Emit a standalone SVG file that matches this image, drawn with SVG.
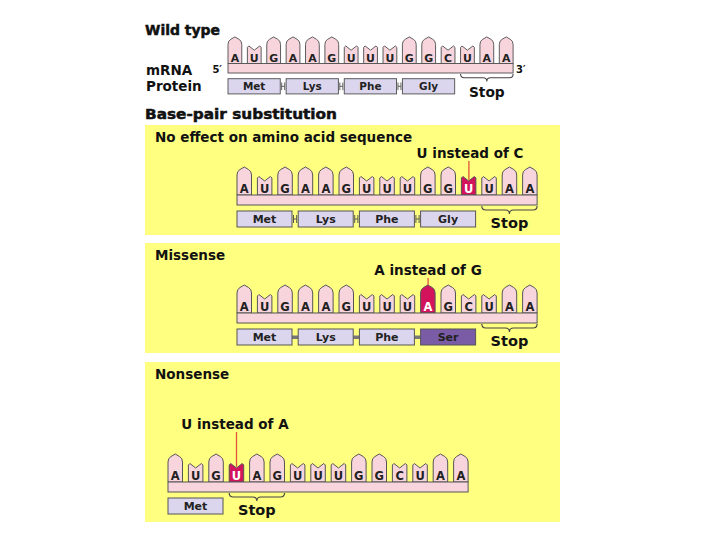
<svg xmlns="http://www.w3.org/2000/svg" xmlns:xlink="http://www.w3.org/1999/xlink" width="720" height="540" viewBox="0 0 720 540">
<style>
.t{font-family:"DejaVu Sans","Liberation Sans",sans-serif;font-weight:bold;fill:#111}
.title{font-size:14px;stroke:#111;stroke-width:0.5}
.lbl{font-size:13.5px}
.side{font-size:13.5px}
.b{font-family:"DejaVu Sans","Liberation Sans",sans-serif;font-weight:bold;font-size:11.5px;fill:#222;text-anchor:middle}
.bw{fill:#fff}
.aa{font-family:"DejaVu Sans","Liberation Sans",sans-serif;font-weight:bold;font-size:11px;fill:#222;text-anchor:middle}
.stop{font-family:"DejaVu Sans","Liberation Sans",sans-serif;font-weight:bold;font-size:14.5px;fill:#111;text-anchor:middle}
.pink{fill:#F8D5DD;stroke:#555;stroke-width:1}
.mag{fill:#D3145C;stroke:#555;stroke-width:1}
.box{fill:#DCD5EE;stroke:#555;stroke-width:1}
.ser{fill:#7A5BA6;stroke:#555;stroke-width:1}
.panel{fill:#FFFF80}
.brace{fill:none;stroke:#444;stroke-width:1.1}
.hc{fill:none;stroke:#555;stroke-width:1}
.ptr{stroke:#E0553A;stroke-width:1.3}
</style>
<defs>
<path id="pur" d="M0,0 V-20 Q0,-24 3,-25.5 L7.25,-28 L11.5,-25.5 Q14.5,-24 14.5,-20 V0 Z"/>
<path id="pyr" d="M0,0 V-17 L1.5,-18.5 L7.25,-14 L13,-18.5 L14.5,-17 V0 Z"/>
<path id="hcon" d="M56.5,20 V28 M56.5,24 H59.7 M59.7,20 V28"/>
<path id="br3" d="M0,11 Q0,15 4,15 H23.65 Q27.65,15 27.65,19 Q27.65,15 31.65,15 H51.3 Q55.3,15 55.3,11"/>
</defs>

<g id="panels">
<rect class="panel" x="145" y="125" width="415" height="110"/>
<rect class="panel" x="145" y="243" width="415" height="110"/>
<rect class="panel" x="145" y="362" width="415" height="160"/>
</g>

<g id="headings">
<text class="t title" x="145" y="35" textLength="75" lengthAdjust="spacingAndGlyphs">Wild type</text>
<text class="t side" x="146" y="75">mRNA</text>
<text class="t side" x="146" y="91">Protein</text>
<text class="t title" x="145" y="119" textLength="192" lengthAdjust="spacingAndGlyphs">Base-pair substitution</text>
<text class="t" x="222" y="73" font-size="10" text-anchor="end">5′</text>
<text class="t" x="516" y="73" font-size="10">3′</text>
</g>

<g id="wildtype" transform="translate(228,63.5) scale(0.95)">
<use href="#pur" class="pink" x="0"/><use href="#pyr" class="pink" x="20.4"/><use href="#pur" class="pink" x="40.8"/>
<use href="#pur" class="pink" x="61.2"/><use href="#pur" class="pink" x="81.6"/><use href="#pur" class="pink" x="102"/>
<use href="#pyr" class="pink" x="122.4"/><use href="#pyr" class="pink" x="142.8"/><use href="#pyr" class="pink" x="163.2"/>
<use href="#pur" class="pink" x="183.6"/><use href="#pur" class="pink" x="204"/><use href="#pyr" class="pink" x="224.4"/>
<use href="#pyr" class="pink" x="244.8"/><use href="#pur" class="pink" x="265.2"/><use href="#pur" class="pink" x="285.6"/>
<rect class="pink" x="0" y="0" width="300.1" height="10"/>
<g>
<text class="b" x="7.25" y="-2">A</text><text class="b" x="27.65" y="-2">U</text><text class="b" x="48.05" y="-2">G</text>
<text class="b" x="68.45" y="-2">A</text><text class="b" x="88.85" y="-2">A</text><text class="b" x="109.25" y="-2">G</text>
<text class="b" x="129.65" y="-2">U</text><text class="b" x="150.05" y="-2">U</text><text class="b" x="170.45" y="-2">U</text>
<text class="b" x="190.85" y="-2">G</text><text class="b" x="211.25" y="-2">G</text><text class="b" x="231.65" y="-2">C</text>
<text class="b" x="252.05" y="-2">U</text><text class="b" x="272.45" y="-2">A</text><text class="b" x="292.85" y="-2">A</text>
</g>
<rect class="box" x="0" y="16" width="55" height="16"/><text class="aa" x="27.5" y="28">Met</text>
<rect class="box" x="61.2" y="16" width="55" height="16"/><text class="aa" x="88.7" y="28">Lys</text>
<rect class="box" x="122.4" y="16" width="55" height="16"/><text class="aa" x="149.9" y="28">Phe</text>
<rect class="box" x="183.6" y="16" width="55" height="16"/><text class="aa" x="211.1" y="28">Gly</text>
<use href="#hcon" class="hc" x="0"/><use href="#hcon" class="hc" x="61.2"/><use href="#hcon" class="hc" x="122.4"/>
<use href="#br3" class="brace" x="244.8"/>
<text class="stop" x="272.45" y="35" font-size="13.5">Stop</text>
</g>

<g id="noeffect">
<text class="t lbl" x="155" y="142">No effect on amino acid sequence</text>
<text class="t lbl" x="470" y="158" text-anchor="middle">U instead of C</text>
<g transform="translate(237,195)">
<use href="#pur" class="pink" x="0"/><use href="#pyr" class="pink" x="20.4"/><use href="#pur" class="pink" x="40.8"/>
<use href="#pur" class="pink" x="61.2"/><use href="#pur" class="pink" x="81.6"/><use href="#pur" class="pink" x="102"/>
<use href="#pyr" class="pink" x="122.4"/><use href="#pyr" class="pink" x="142.8"/><use href="#pyr" class="pink" x="163.2"/>
<use href="#pur" class="pink" x="183.6"/><use href="#pur" class="pink" x="204"/><use href="#pyr" class="mag" x="224.4"/>
<use href="#pyr" class="pink" x="244.8"/><use href="#pur" class="pink" x="265.2"/><use href="#pur" class="pink" x="285.6"/>
<rect class="pink" x="0" y="0" width="300.1" height="10"/>
<text class="b" x="7.25" y="-2">A</text><text class="b" x="27.65" y="-2">U</text><text class="b" x="48.05" y="-2">G</text>
<text class="b" x="68.45" y="-2">A</text><text class="b" x="88.85" y="-2">A</text><text class="b" x="109.25" y="-2">G</text>
<text class="b" x="129.65" y="-2">U</text><text class="b" x="150.05" y="-2">U</text><text class="b" x="170.45" y="-2">U</text>
<text class="b" x="190.85" y="-2">G</text><text class="b" x="211.25" y="-2">G</text><text class="b bw" x="231.65" y="-2">U</text>
<text class="b" x="252.05" y="-2">U</text><text class="b" x="272.45" y="-2">A</text><text class="b" x="292.85" y="-2">A</text>
<rect class="box" x="0" y="16" width="55" height="16"/><text class="aa" x="27.5" y="28">Met</text>
<rect class="box" x="61.2" y="16" width="55" height="16"/><text class="aa" x="88.7" y="28">Lys</text>
<rect class="box" x="122.4" y="16" width="55" height="16"/><text class="aa" x="149.9" y="28">Phe</text>
<rect class="box" x="183.6" y="16" width="55" height="16"/><text class="aa" x="211.1" y="28">Gly</text>
<use href="#hcon" class="hc" x="0"/><use href="#hcon" class="hc" x="61.2"/><use href="#hcon" class="hc" x="122.4"/>
<use href="#br3" class="brace" x="244.8"/>
<text class="stop" x="272.45" y="33">Stop</text>
</g>
</g>

<g id="missense">
<text class="t lbl" x="155" y="260">Missense</text>
<text class="t lbl" x="428" y="275" text-anchor="middle">A instead of G</text>
<g transform="translate(237,313)">
<use href="#pur" class="pink" x="0"/><use href="#pyr" class="pink" x="20.4"/><use href="#pur" class="pink" x="40.8"/>
<use href="#pur" class="pink" x="61.2"/><use href="#pur" class="pink" x="81.6"/><use href="#pur" class="pink" x="102"/>
<use href="#pyr" class="pink" x="122.4"/><use href="#pyr" class="pink" x="142.8"/><use href="#pyr" class="pink" x="163.2"/>
<use href="#pur" class="mag" x="183.6"/><use href="#pur" class="pink" x="204"/><use href="#pyr" class="pink" x="224.4"/>
<use href="#pyr" class="pink" x="244.8"/><use href="#pur" class="pink" x="265.2"/><use href="#pur" class="pink" x="285.6"/>
<rect class="pink" x="0" y="0" width="300.1" height="10"/>
<text class="b" x="7.25" y="-2">A</text><text class="b" x="27.65" y="-2">U</text><text class="b" x="48.05" y="-2">G</text>
<text class="b" x="68.45" y="-2">A</text><text class="b" x="88.85" y="-2">A</text><text class="b" x="109.25" y="-2">G</text>
<text class="b" x="129.65" y="-2">U</text><text class="b" x="150.05" y="-2">U</text><text class="b" x="170.45" y="-2">U</text>
<text class="b bw" x="190.85" y="-2">A</text><text class="b" x="211.25" y="-2">G</text><text class="b" x="231.65" y="-2">C</text>
<text class="b" x="252.05" y="-2">U</text><text class="b" x="272.45" y="-2">A</text><text class="b" x="292.85" y="-2">A</text>
<rect x="55" y="22.5" width="6.2" height="3.5" fill="#777"/>
<rect x="116.2" y="22.5" width="6.2" height="3.5" fill="#777"/>
<rect x="177.4" y="22.5" width="6.2" height="3.5" fill="#777"/>
<rect class="box" x="0" y="16" width="55" height="16"/><text class="aa" x="27.5" y="28">Met</text>
<rect class="box" x="61.2" y="16" width="55" height="16"/><text class="aa" x="88.7" y="28">Lys</text>
<rect class="box" x="122.4" y="16" width="55" height="16"/><text class="aa" x="149.9" y="28">Phe</text>
<rect class="ser" x="183.6" y="16" width="55" height="16"/><text class="aa bw" x="211.1" y="28">Ser</text>
<use href="#br3" class="brace" x="244.8"/>
<text class="stop" x="272.45" y="33">Stop</text>
</g>
</g>

<g id="nonsense">
<text class="t lbl" x="155" y="379">Nonsense</text>
<text class="t lbl" x="235" y="429" text-anchor="middle">U instead of A</text>
<g transform="translate(168,482)">
<use href="#pur" class="pink" x="0"/><use href="#pyr" class="pink" x="20.4"/><use href="#pur" class="pink" x="40.8"/>
<use href="#pyr" class="mag" x="61.2"/><use href="#pur" class="pink" x="81.6"/><use href="#pur" class="pink" x="102"/>
<use href="#pyr" class="pink" x="122.4"/><use href="#pyr" class="pink" x="142.8"/><use href="#pyr" class="pink" x="163.2"/>
<use href="#pur" class="pink" x="183.6"/><use href="#pur" class="pink" x="204"/><use href="#pyr" class="pink" x="224.4"/>
<use href="#pyr" class="pink" x="244.8"/><use href="#pur" class="pink" x="265.2"/><use href="#pur" class="pink" x="285.6"/>
<rect class="pink" x="0" y="0" width="300.1" height="10"/>
<text class="b" x="7.25" y="-2">A</text><text class="b" x="27.65" y="-2">U</text><text class="b" x="48.05" y="-2">G</text>
<text class="b bw" x="68.45" y="-2">U</text><text class="b" x="88.85" y="-2">A</text><text class="b" x="109.25" y="-2">G</text>
<text class="b" x="129.65" y="-2">U</text><text class="b" x="150.05" y="-2">U</text><text class="b" x="170.45" y="-2">U</text>
<text class="b" x="190.85" y="-2">G</text><text class="b" x="211.25" y="-2">G</text><text class="b" x="231.65" y="-2">C</text>
<text class="b" x="252.05" y="-2">U</text><text class="b" x="272.45" y="-2">A</text><text class="b" x="292.85" y="-2">A</text>
<rect class="box" x="0" y="16" width="55" height="16"/><text class="aa" x="27.5" y="28">Met</text>
<use href="#br3" class="brace" x="61.2"/>
<text class="stop" x="88.85" y="33">Stop</text>
</g>
</g>

<g id="connectors">
<line class="ptr" x1="468.9" y1="161" x2="468.9" y2="180"/>
<line class="ptr" x1="428.1" y1="278" x2="428.1" y2="285"/>
<line class="ptr" x1="236.5" y1="432" x2="236.5" y2="467"/>
</g>
</svg>
